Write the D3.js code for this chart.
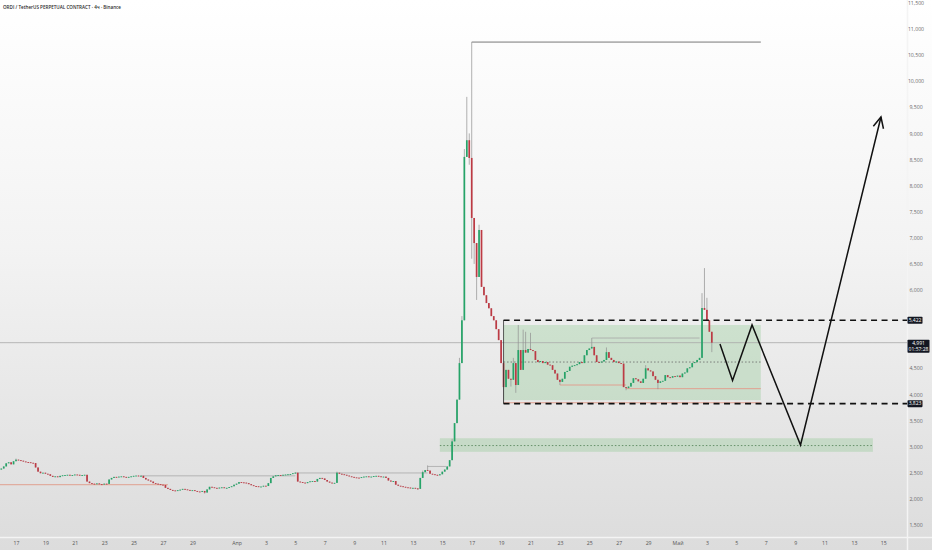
<!DOCTYPE html>
<html><head><meta charset="utf-8">
<script src="https://cdn.jsdelivr.net/npm/d3@7"></script>
<style>html,body{margin:0;padding:0;background:#fff;} svg{display:block;}</style>
</head><body>
<svg id="c" width="932" height="550"></svg>
<script>
// ---------------- DATA ----------------
const title = "ORDI / TetherUS PERPETUAL CONTRACT · 4ч · Binance";
const firstCandle = "2024-03-16T00:00:00Z";
const candleHours = 4;
const firstOpen = 2560;
const closes = [
 2580,2620,2680,2700,2660,2720,2750,2740,2730,2715,
 2705,2700,2690,2685,2600,2520,2490,2500,2480,2470,
 2440,2420,2430,2415,2440,2450,2455,2460,2450,2455,
 2465,2460,2450,2455,2460,2330,2300,2290,2285,2295,
 2280,2275,2290,2285,2370,2400,2420,2415,2425,2430,
 2420,2410,2420,2430,2440,2445,2435,2440,2400,2370,
 2350,2330,2300,2290,2280,2270,2265,2210,2190,2170,
 2160,2150,2165,2175,2190,2180,2170,2160,2165,2150,
 2140,2135,2150,2120,2180,2230,2220,2210,2200,2215,
 2220,2205,2210,2225,2240,2270,2290,2320,2315,2310,
 2300,2280,2260,2245,2240,2230,2235,2250,2245,2300,
 2400,2430,2450,2455,2450,2460,2465,2470,2475,2490,
 2500,2330,2320,2310,2300,2320,2335,2340,2330,2380,
 2400,2390,2360,2330,2310,2300,2305,2500,2480,2470,
 2460,2445,2430,2420,2410,2405,2400,2415,2425,2430,
 2420,2425,2435,2440,2430,2420,2425,2400,2350,2330,
 2340,2270,2250,2240,2230,2220,2215,2200,2210,2200,
 2190,2400,2510,2550,2540,2480,2470,2460,2450,2470,
 2520,2560,2620,2740,3100,3450,3900,4600,5420,8550,
 8870,8530,7380,6900,6250,7150,6060,5900,5750,5650,
 5500,5420,5250,5040,4600,4140,4470,4300,4280,4600,
 4180,4850,4470,4850,4800,4870,4850,4830,4660,4620,
 4640,4600,4620,4570,4560,4470,4400,4280,4240,4300,
 4430,4450,4530,4550,4560,4580,4620,4600,4750,4850,
 4880,4910,4750,4620,4610,4630,4660,4810,4700,4660,
 4620,4630,4600,4590,4140,4120,4150,4220,4310,4290,
 4250,4220,4300,4500,4460,4440,4350,4280,4220,4250,
 4260,4370,4330,4320,4350,4340,4360,4330,4400,4420,
 4500,4520,4600,4620,4660,4700,5655,5620,5420,5200,
 4991
];
// notable wicks: [candle index, price]
const wickHighs = [[6,2770],[57,2455],[120,2510],[137,2520],[172,2540],[174,2640],[184,3150],[187,4700],[188,5500],
  [189,8700],[190,9700],[191,9000],[192,10750],[195,7250],[209,4700],[211,5330],[213,5240],[214,5200],[216,5180],
  [241,5080],[247,4900],[263,4560],[286,5940],[287,6420],[288,5850]];
const wickLows = [[83,2100],[170,2170],[191,8400],[192,6600],[193,6500],[194,5810],[205,3823],[208,4150],[210,4030],
  [228,4180],[255,4080],[268,4100],[290,4810]];

// labels shown on the price scale (5,500 and 5,000 are hidden behind the price boxes)
const priceTicks = [1500,2000,2500,3000,3500,4000,4500,6000,6500,7000,7500,8000,8500,9000,9500,10000,10500,11000,11500];
const timeTickDates = ["2024-03-17","2024-03-19","2024-03-21","2024-03-23","2024-03-25","2024-03-27","2024-03-29",
  "2024-04-01","2024-04-03","2024-04-05","2024-04-07","2024-04-09","2024-04-11","2024-04-13","2024-04-15",
  "2024-04-17","2024-04-19","2024-04-21","2024-04-23","2024-04-25","2024-04-27","2024-04-29",
  "2024-05-01","2024-05-03","2024-05-05","2024-05-07","2024-05-09","2024-05-11","2024-05-13","2024-05-15"];
const timeTickLabels = ["17","19","21","23","25","27","29","Апр","3","5","7","9","11","13","15",
  "17","19","21","23","25","27","29","Май","3","5","7","9","11","13","15"];

// thin horizontal level lines
const levelStart = ["2024-03-25T12:00Z","2024-04-05T00:00Z","2024-04-14T00:00Z","2024-03-15T20:00Z","2024-04-25T04:00Z",
  "2024-04-23T00:00Z","2024-04-27T12:00Z","2024-04-19T04:00Z","2024-04-19T04:00Z","2024-04-14T20:00Z"];
const levelEnd = ["2024-04-05T00:00Z","2024-04-14T00:00Z","2024-04-15T06:00Z","2024-03-27T08:00Z","2024-05-02T12:00Z",
  "2024-04-27T12:00Z","2024-05-06T16:00Z","2024-05-06T16:00Z","2024-05-06T16:00Z","2024-05-14T07:00Z"];
const levelPrice = [2440,2495,2620,2270,5080,4180,4110,3840,4620,3020];
const levelKind = ["grey","grey","grey","salmon","grey","salmon","salmon","salmon","dotted","greenDotted"];

// zones
const zoneStart = ["2024-04-19T04:00Z","2024-04-14T20:00Z"];
const zoneEnd = ["2024-05-06T16:00Z","2024-05-14T07:00Z"];
const zoneTop = [5330,3160];
const zoneBottom = [3890,2900];

// dashed key levels
const keyLevels = [5422,3823];
const keyStart = "2024-04-19T04:00Z";
const maxLevel = 10750, maxStart = "2024-04-17T00:00Z", maxEnd = "2024-05-06T16:00Z";
const lastPrice = 4991, countdown = "01:57:28";

// projected path
const projTimes = ["2024-05-03T21:20Z","2024-05-04T17:50Z","2024-05-06T01:40Z","2024-05-09T08:50Z","2024-05-14T20:10Z"];
const projPrices = [4966,4266,5330,3031,9314];

// ---------------- CHART ----------------
const W = 932, H = 550, plotR = 907, plotB = 537;
const svg = d3.select("#c");
const x = d3.scaleUtc().domain([new Date("2024-03-15T21:52:00Z"), new Date("2024-05-16T14:40:00Z")]).range([0, plotR]);
const y = d3.scaleLinear().domain([1364, 11556]).range([532, 0]);

const defs = svg.append("defs");
const grad = defs.append("linearGradient").attr("id","bg").attr("x1",0).attr("y1",0).attr("x2",0).attr("y2",1);
grad.append("stop").attr("offset","0%").attr("stop-color","#ffffff");
grad.append("stop").attr("offset","45%").attr("stop-color","#f3f3f3");
grad.append("stop").attr("offset","100%").attr("stop-color","#dcdcdc");
svg.append("rect").attr("width",W).attr("height",H).attr("fill","url(#bg)");

// separators
svg.append("line").attr("x1",0).attr("x2",W).attr("y1",plotB+0.5).attr("y2",plotB+0.5).attr("stroke","#f4f4f4").attr("stroke-width",1.5);
svg.append("line").attr("x1",plotR+0.5).attr("x2",plotR+0.5).attr("y1",0).attr("y2",H).attr("stroke","#f4f4f4").attr("stroke-width",1.5);

const T = s => new Date(s);
const g = svg.append("g");

// zones
zoneStart.forEach((s,i)=>{
  g.append("rect").attr("x",x(T(s))).attr("width",x(T(zoneEnd[i]))-x(T(s)))
   .attr("y",y(zoneTop[i])).attr("height",y(zoneBottom[i])-y(zoneTop[i]))
   .attr("fill","rgba(90,180,95,0.22)");
});

// last price line
g.append("line").attr("x1",0).attr("x2",plotR).attr("y1",y(lastPrice)).attr("y2",y(lastPrice))
 .attr("stroke","#a9a9a9").attr("stroke-width",0.8);

// level lines
const kindStyle = {
  grey:{stroke:"#a8a8a8",w:0.8,dash:null},
  salmon:{stroke:"#e0a090",w:1,dash:null},
  dotted:{stroke:"#666",w:0.8,dash:"1.5,2"},
  greenDotted:{stroke:"#4d7d52",w:0.8,dash:"1.5,2"}
};
levelPrice.forEach((p,i)=>{
  const st = kindStyle[levelKind[i]];
  g.append("line").attr("x1",Math.max(0,x(T(levelStart[i])))).attr("x2",x(T(levelEnd[i])))
   .attr("y1",y(p)).attr("y2",y(p)).attr("stroke",st.stroke).attr("stroke-width",st.w)
   .attr("stroke-dasharray",st.dash);
});

// max marker line
g.append("line").attr("x1",x(T(maxStart))).attr("x2",x(T(maxEnd))).attr("y1",y(maxLevel)).attr("y2",y(maxLevel))
 .attr("stroke","#555").attr("stroke-width",0.8);

// candles
const t0 = new Date(firstCandle).getTime();
const hiMap = new Map(wickHighs), loMap = new Map(wickLows);
const candles = closes.map((c,i)=>{
  const o = i===0 ? firstOpen : closes[i-1];
  let h = Math.max(o,c), l = Math.min(o,c);
  if (hiMap.has(i)) h = Math.max(h, hiMap.get(i));
  if (loMap.has(i)) l = Math.min(l, loMap.get(i));
  return {t:new Date(t0 + i*candleHours*3600e3), o, c, h, l};
});
const bw = 1.7;
const cg = g.append("g");
cg.selectAll("line.w").data(candles).join("line").attr("class","w")
  .attr("x1",d=>x(d.t)).attr("x2",d=>x(d.t)).attr("y1",d=>y(d.h)).attr("y2",d=>y(d.l))
  .attr("stroke","#8f8f8f").attr("stroke-width",0.7);
cg.selectAll("rect.b").data(candles).join("rect").attr("class","b")
  .attr("x",d=>x(d.t)-bw/2).attr("width",bw)
  .attr("y",d=>y(Math.max(d.o,d.c))).attr("height",d=>Math.max(0.9, Math.abs(y(d.o)-y(d.c))))
  .attr("fill",d=>d.c>=d.o ? "#25a468" : "#bd3a44");

// range vertical edge
g.append("line").attr("x1",x(T(keyStart))).attr("x2",x(T(keyStart))).attr("y1",y(keyLevels[0])).attr("y2",y(keyLevels[1]))
 .attr("stroke","#333").attr("stroke-width",0.8);

// dashed key levels
keyLevels.forEach(p=>{
  g.append("line").attr("x1",x(T(keyStart))).attr("x2",plotR).attr("y1",y(p)).attr("y2",y(p))
   .attr("stroke","#111").attr("stroke-width",1.6).attr("stroke-dasharray","6,4.5");
});

// projection path
const pts = projTimes.map((s,i)=>[x(T(s)), y(projPrices[i])]);
g.append("path").attr("d",d3.line()(pts)).attr("fill","none").attr("stroke","#111").attr("stroke-width",1.5)
 .attr("stroke-linejoin","miter");
{
  const [ax,ay] = pts[pts.length-1], [bx,by] = pts[pts.length-2];
  const ang = Math.atan2(ay-by, ax-bx), L = 12, spread = 0.45;
  const p1 = [ax - L*Math.cos(ang-spread), ay - L*Math.sin(ang-spread)];
  const p2 = [ax - L*Math.cos(ang+spread), ay - L*Math.sin(ang+spread)];
  g.append("path").attr("d",d3.line()([p1,[ax,ay],p2])).attr("fill","none").attr("stroke","#111")
   .attr("stroke-width",1.5).attr("stroke-linejoin","miter");
}

// title
svg.append("text").attr("x",3).attr("y",9).text(title)
  .attr("font-family","'Open Sans', 'DejaVu Sans', sans-serif").attr("font-size",5.8).attr("font-weight",600)
  .attr("fill","#2a2a2a").attr("textLength",118).attr("lengthAdjust","spacingAndGlyphs");

// right price axis
const ya = svg.append("g").attr("transform",`translate(${plotR},0)`)
  .call(d3.axisRight(y).tickValues(priceTicks).tickFormat(d3.format(",")).tickSize(0));
ya.select(".domain").remove();
ya.selectAll("text").attr("x",9).attr("text-anchor","middle").attr("fill","#6a6a6a")
  .attr("font-size",5.2).attr("font-family","'Open Sans', sans-serif");

// bottom time axis
const xa = svg.append("g").attr("transform",`translate(0,${plotB})`)
  .call(d3.axisBottom(x).tickValues(timeTickDates.map(s=>new Date(s+"T00:00:00Z"))).tickFormat((d,i)=>timeTickLabels[i]).tickSize(0));
xa.select(".domain").remove();
xa.selectAll("text").attr("y",4).attr("fill","#555").attr("font-size",5.2).attr("font-family","'Open Sans', sans-serif");

// price label boxes
function box(p, lines, w){
  const yy = y(p);
  const h = lines.length===1 ? 7 : 13;
  const top = lines.length===1 ? yy - 3.5 : yy - 3;
  svg.append("rect").attr("x",plotR+0.5).attr("y",top).attr("width",w).attr("height",h).attr("fill","#131722").attr("rx",0.8);
  lines.forEach((t,k)=>{
    svg.append("text").attr("x",plotR+0.5+w/2).attr("y",top+5.2+k*5.8).attr("text-anchor","middle")
      .attr("fill","#fff").attr("font-size",5).attr("font-family","'Open Sans', sans-serif").text(t);
  });
}
const fmt = d3.format(",");
box(keyLevels[0],[fmt(keyLevels[0])],15);
box(lastPrice,[fmt(lastPrice), countdown],22);
box(keyLevels[1],[fmt(keyLevels[1])],15);
</script>
</body></html>
